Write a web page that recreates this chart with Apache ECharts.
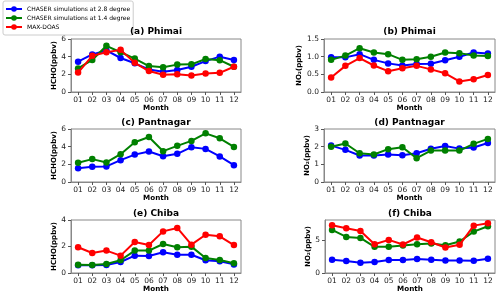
<!DOCTYPE html>
<html>
<head>
<meta charset="utf-8">
<script src="https://cdn.jsdelivr.net/npm/echarts@6/dist/echarts.min.js"></script>
<style>
html,body{margin:0;padding:0;background:#fff;}
#chart{width:500px;height:296px;}
</style>
</head>
<body>
<div id="chart"></div>
<script>
const months = ['01','02','03','04','05','06','07','08','09','10','11','12'];
const seriesNames = ['CHASER simulations at 2.8 degree','CHASER simulations at 1.4 degree','MAX-DOAS'];

// (a) Phimai HCHO
const phimaiHCHO28  = [3.43,4.25,4.70,3.85,3.25,2.55,2.30,2.48,2.86,3.50,4.00,3.63];
const phimaiHCHO14  = [2.67,3.63,5.23,4.50,3.78,2.94,2.80,3.10,3.13,3.74,3.60,2.86];
const phimaiHCHOMax = [2.20,4.10,4.50,4.77,3.30,2.37,1.95,2.02,1.87,2.10,2.17,2.86];
// (b) Phimai NO2
const phimaiNO228  = [0.98,0.98,1.07,0.91,0.81,0.75,0.79,0.80,0.90,1.00,1.12,1.09];
const phimaiNO214  = [0.91,1.03,1.24,1.12,1.07,0.91,0.93,1.00,1.12,1.10,1.03,1.02];
const phimaiNO2Max = [0.41,0.74,0.96,0.75,0.59,0.67,0.74,0.64,0.53,0.30,0.36,0.48];
// (c) Pantnagar HCHO
const pantHCHO28 = [1.57,1.72,1.76,2.47,3.10,3.45,2.92,3.19,3.94,3.75,2.89,1.91];
const pantHCHO14 = [2.17,2.59,2.21,3.15,4.50,5.10,3.49,4.09,4.65,5.51,4.95,3.97];
// (d) Pantnagar NO2
const pantNO228 = [2.06,1.82,1.50,1.50,1.56,1.52,1.63,1.88,2.04,1.89,1.95,2.21];
const pantNO214 = [2.00,2.18,1.63,1.56,1.86,1.97,1.35,1.78,1.78,1.78,2.16,2.44];
// (e) Chiba HCHO
const chibaHCHO28  = [0.58,0.58,0.60,0.83,1.31,1.28,1.56,1.38,1.38,0.96,0.88,0.65];
const chibaHCHO14  = [0.63,0.60,0.68,0.96,1.69,1.69,2.19,1.94,1.99,1.13,0.98,0.73];
const chibaHCHOMax = [1.94,1.51,1.69,1.31,2.34,2.11,3.14,3.40,2.14,2.89,2.77,2.11];
// (f) Chiba NO2
const chibaNO228  = [2.00,1.80,1.55,1.65,1.95,1.95,2.10,2.00,1.90,1.90,1.85,2.15];
const chibaNO214  = [6.50,5.45,5.30,3.95,3.95,4.15,4.35,4.45,4.20,4.75,6.25,7.05];
const chibaNO2Max = [7.20,6.75,6.35,4.35,5.00,4.30,5.35,4.65,3.85,4.25,7.15,7.50];

// y-axis tick labels and ranges
const yTicksA = [0,2,4,6];           const yMaxA = 6;
const yTicksB = [0.0,0.5,1.0,1.5];   const yMaxB = 1.5;
const yTicksC = [0,2,4,6];           const yMaxC = 6;
const yTicksD = [0,1,2,3];           const yMaxD = 3;
const yTicksE = [0,2,4];             const yMaxE = 4;
const yTicksF = [0,5];               const yMaxF = 8;

const titles = ['(a) Phimai','(b) Phimai','(c) Pantnagar','(d) Pantnagar','(e) Chiba','(f) Chiba'];
const yNames = ['HCHO(ppbv)','NO\u2082(ppbv)','HCHO(ppbv)','NO\u2082(ppbv)','HCHO(ppbv)','NO\u2082(ppbv)'];

const panelData = [
  {ticks:yTicksA, max:yMaxA, dec:0, s:[phimaiHCHO28, phimaiHCHO14, phimaiHCHOMax]},
  {ticks:yTicksB, max:yMaxB, dec:1, s:[phimaiNO228, phimaiNO214, phimaiNO2Max]},
  {ticks:yTicksC, max:yMaxC, dec:0, s:[pantHCHO28, pantHCHO14, null]},
  {ticks:yTicksD, max:yMaxD, dec:0, s:[pantNO228, pantNO214, null]},
  {ticks:yTicksE, max:yMaxE, dec:0, s:[chibaHCHO28, chibaHCHO14, chibaHCHOMax]},
  {ticks:yTicksF, max:yMaxF, dec:0, s:[chibaNO228, chibaNO214, chibaNO2Max]}
];

// layout
const gridBoxes = [
  {left:71, top:39, width:170, height:53},
  {left:324, top:39, width:171, height:53},
  {left:71, top:129, width:170, height:53},
  {left:324, top:129, width:171, height:53},
  {left:71, top:220, width:170, height:53},
  {left:325, top:220, width:170, height:53}
];
const titleCenterY = [32.3, 32.3, 123.3, 123.3, 214.3, 214.3];
const colors = ['#0000ff','#008000','#ff0000'];
const FONT = 'DejaVu Sans';

const grid = [], xAxis = [], yAxis = [], series = [], title = [];
panelData.forEach((p, i) => {
  const g = gridBoxes[i];
  grid.push(Object.assign({show:true, borderColor:'#888', borderWidth:1, backgroundColor:'transparent'}, g));
  title.push({
    text: titles[i],
    left: g.left + g.width/2, top: titleCenterY[i] - 5.5,
    textAlign: 'center', padding: 0,
    textStyle: {fontFamily: FONT, fontSize: 9, fontWeight: 'bold', color: '#000'}
  });
  xAxis.push({
    type:'category', gridIndex:i, data:months, boundaryGap:true,
    name:'Month', nameLocation:'middle', nameGap:12.5,
    nameTextStyle:{fontFamily:FONT, fontSize:7.2, fontWeight:'bold', color:'#000'},
    axisLine:{show:true, lineStyle:{color:'#888', width:1}},
    axisTick:{show:true, alignWithLabel:true, length:3, lineStyle:{color:'#555'}},
    axisLabel:{fontFamily:FONT, fontSize:7.5, color:'#222', margin:4, interval:0},
    splitLine:{show:false}
  });
  yAxis.push({
    type:'value', gridIndex:i, min:0, max:p.max,
    name:yNames[i], nameLocation:'middle', nameGap:12, nameRotate:90,
    nameTextStyle:{fontFamily:FONT, fontSize:7, fontWeight:'bold', color:'#000'},
    axisLine:{show:true, lineStyle:{color:'#888', width:1}},
    axisTick:{show:true, length:3, customValues:p.ticks, lineStyle:{color:'#555'}},
    axisLabel:{fontFamily:FONT, fontSize:7.5, color:'#222', margin:5, customValues:p.ticks,
      formatter:(v)=>Number(v).toFixed(p.dec)},
    splitLine:{show:false}
  });
  p.s.forEach((arr, k) => {
    if (!arr) return;
    series.push({
      name: seriesNames[k], type:'line', xAxisIndex:i, yAxisIndex:i,
      data: arr, symbol:'circle', symbolSize:6.5,
      lineStyle:{color:colors[k], width:2},
      itemStyle:{color:colors[k]},
      animation:false, z: 2 + k
    });
  });
});

const chart = echarts.init(document.getElementById('chart'), null, {renderer:'canvas'});
chart.setOption({
  animation:false,
  backgroundColor:'#fff',
  title: title,
  legend:{
    data: seriesNames, orient:'vertical', left:3, top:1,
    itemWidth:16, itemHeight:7, itemGap:3,
    padding:[5,3,5,2],
    borderColor:'#ccc', borderWidth:1, borderRadius:2,
    backgroundColor:'rgba(255,255,255,0.8)',
    textStyle:{fontFamily:FONT, fontSize:6, color:'#000'}
  },
  grid: grid, xAxis: xAxis, yAxis: yAxis, series: series
});
</script>
</body>
</html>
